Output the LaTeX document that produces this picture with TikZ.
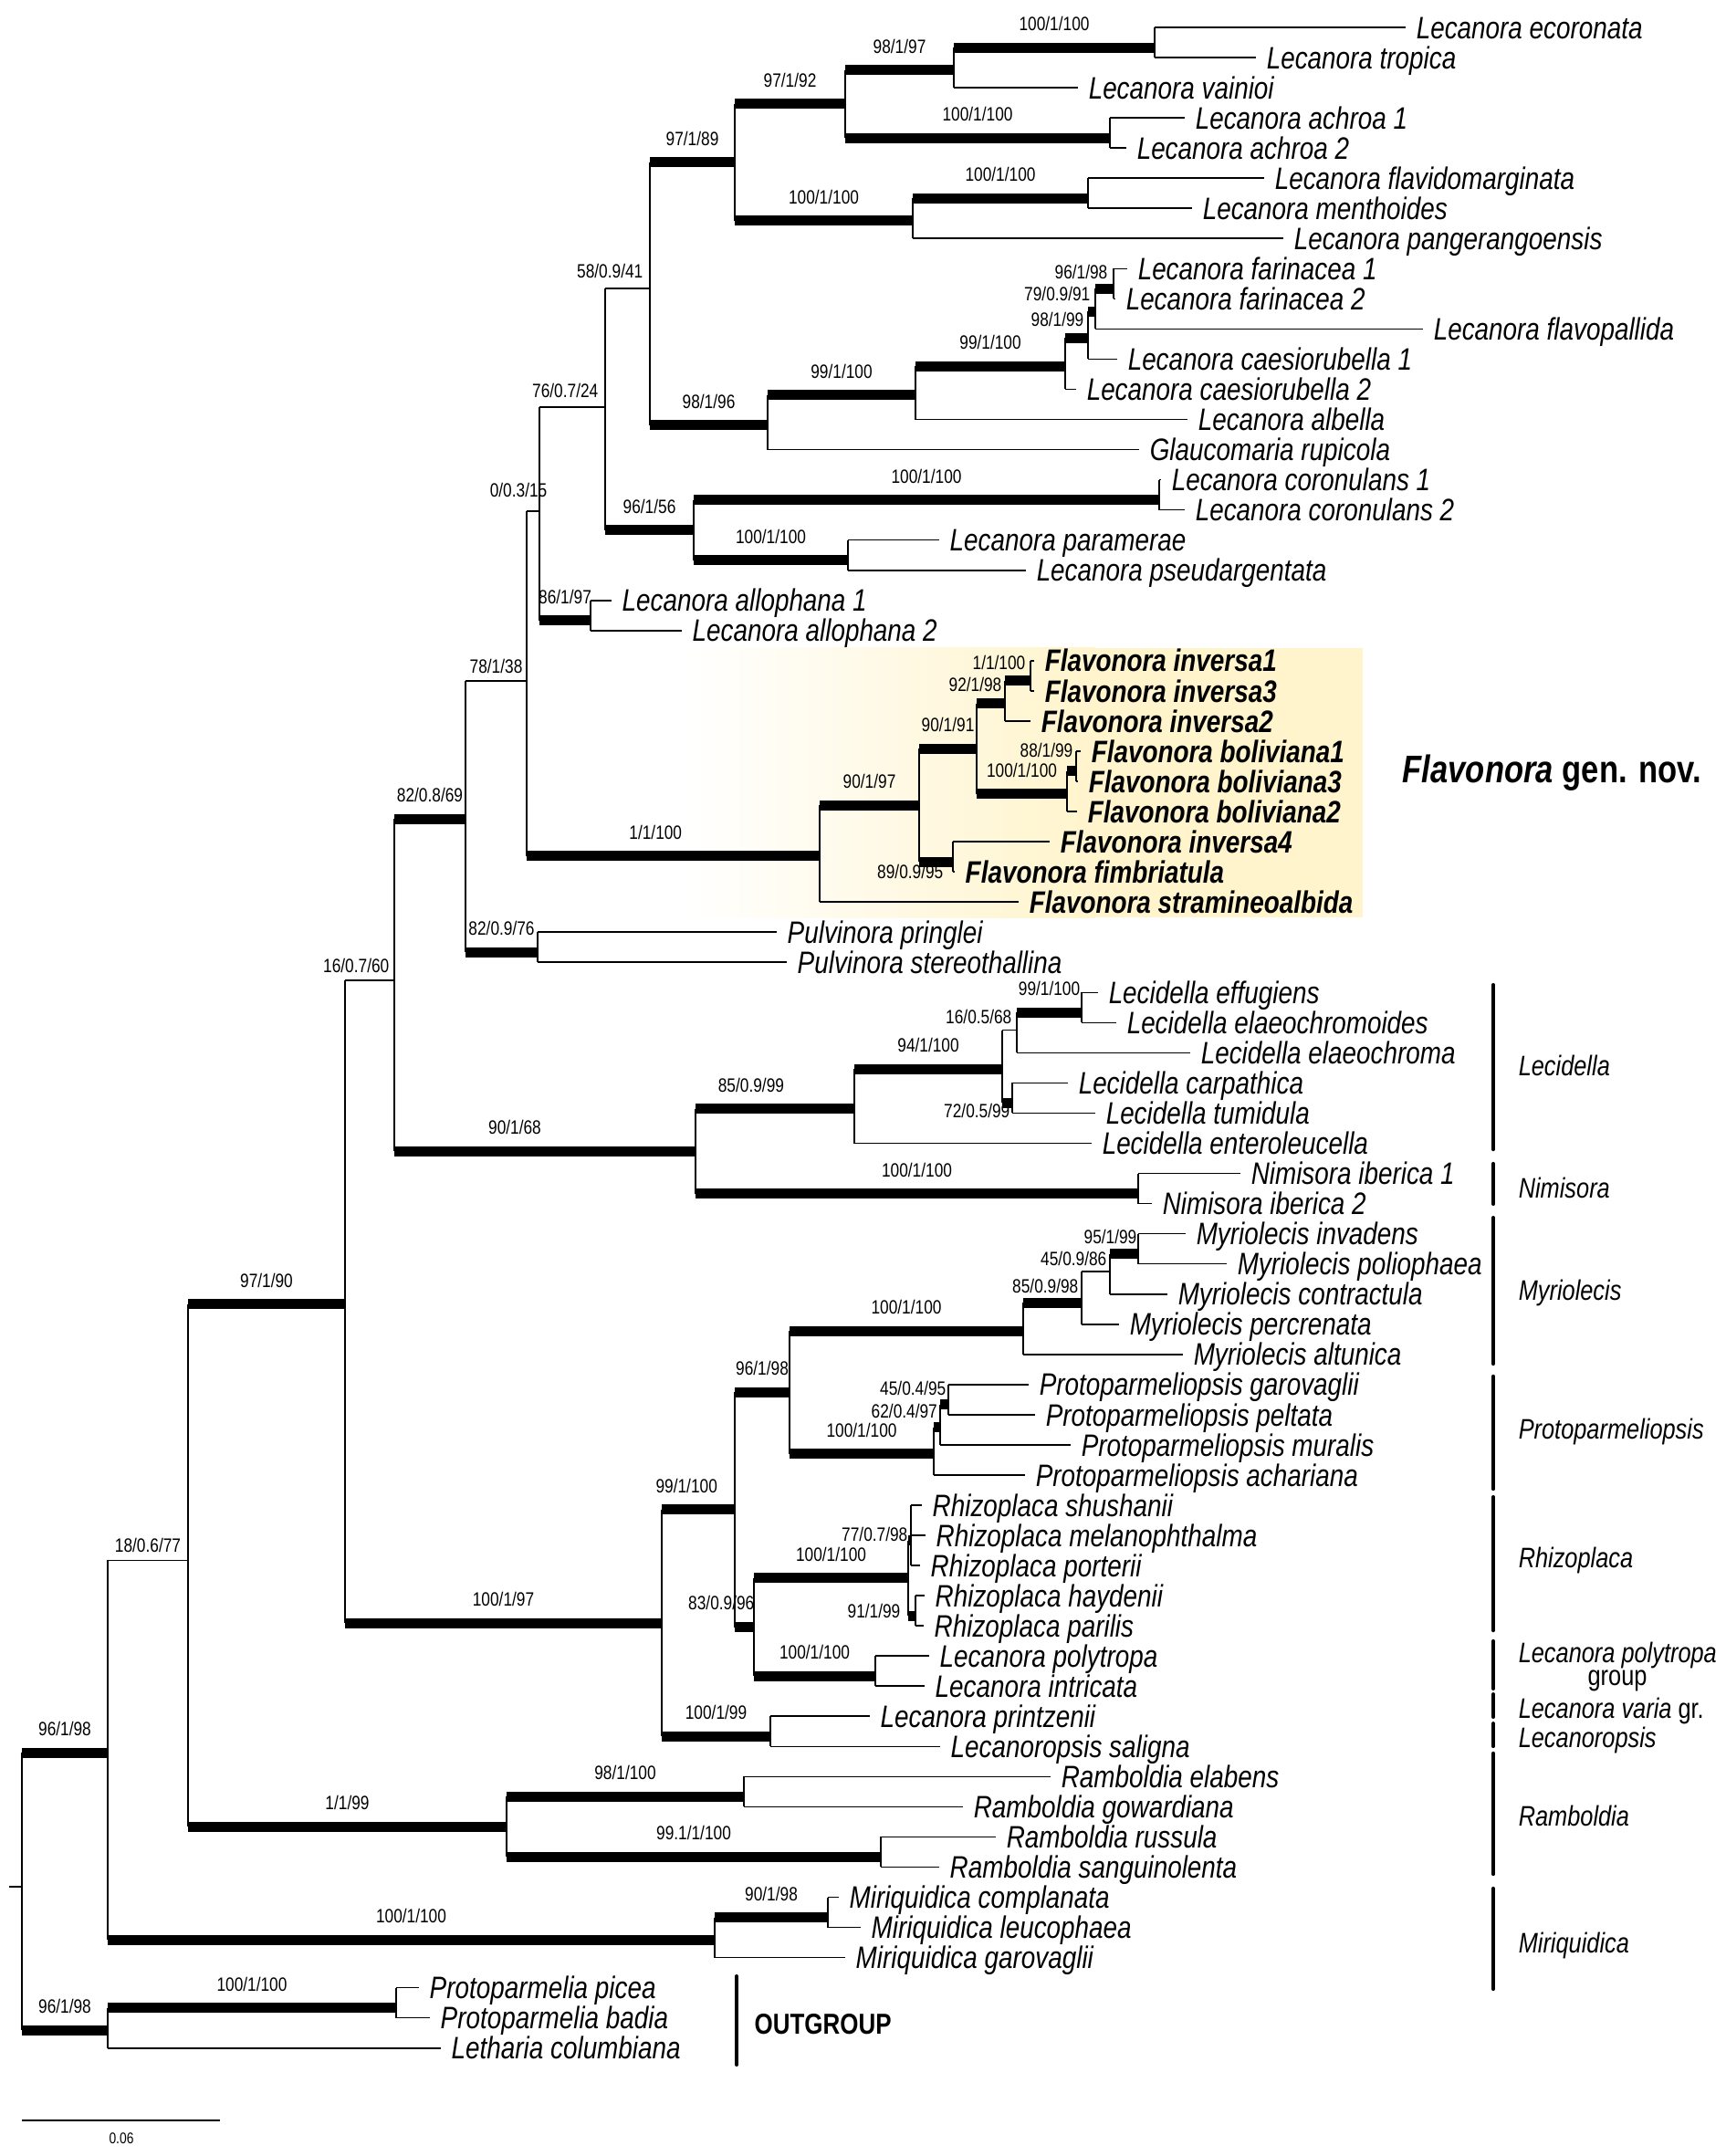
\documentclass[tikz,border=0pt]{standalone}
\usepackage{fontspec}
\setmainfont{Liberation Sans}[FakeStretch=0.82]
\usepackage{tikz}
\usepackage{xcolor}
\definecolor{flavbg}{RGB}{255,244,204}

\begin{document}
\begin{tikzpicture}[x=0.1mm, y=-3.304mm]
    \tikzstyle{br}=[draw, line width=.45pt, black]
    \tikzstyle{sup}=[draw, line width=1.1mm, black]
    \tikzstyle{tx}=[anchor=west, inner xsep=1.1mm, inner ysep=0pt, text height=6.9pt, text depth=0pt, font=\fontsize{9.67pt}{11pt}\selectfont\itshape]
    \tikzstyle{fx}=[tx, font=\fontsize{9.67pt}{11pt}\selectfont\bfseries\itshape]
    \tikzstyle{bs}=[anchor=base, inner sep=0pt, text depth=0pt, yshift=1.85mm, font=\fontsize{6pt}{7pt}\selectfont]
    \tikzstyle{bst}=[bs, yshift=-0.95mm]
    \tikzstyle{bsr}=[anchor=base east, inner sep=0pt, text depth=0pt, font=\fontsize{6pt}{7pt}\selectfont]
    \tikzstyle{grp}=[anchor=west, inner sep=0pt, text height=6.3pt, text depth=0pt, font=\fontsize{8.8pt}{10pt}\selectfont\itshape]
    \tikzstyle{gbar}=[draw, line width=1.2pt, line cap=round]
    \useasboundingbox (0,-0.908) rectangle (1890,70.58);

    % Flavonora box
    \shade[left color=white, right color=flavbg] (748,20.58) rectangle (1200,29.51);
    \fill[flavbg] (1199,20.58) rectangle (1493,29.51);

    % tips
    \node[tx] (t0) at (1540,0) {Lecanora ecoronata};
    \node[tx] (t1) at (1376,1) {Lecanora tropica};
    \node[tx] (t2) at (1181,2) {Lecanora vainioi};
    \node[tx] (t3) at (1298,3) {Lecanora achroa 1};
    \node[tx] (t4) at (1234,4) {Lecanora achroa 2};
    \node[tx] (t5) at (1385,5) {Lecanora flavidomarginata};
    \node[tx] (t6) at (1306,6) {Lecanora menthoides};
    \node[tx] (t7) at (1406,7) {Lecanora pangerangoensis};
    \node[tx] (t8) at (1235,8) {Lecanora farinacea 1};
    \node[tx] (t9) at (1222,9) {Lecanora farinacea 2};
    \node[tx] (t10) at (1559,10) {Lecanora flavopallida};
    \node[tx] (t11) at (1224,11) {Lecanora caesiorubella 1};
    \node[tx] (t12) at (1179,12) {Lecanora caesiorubella 2};
    \node[tx] (t13) at (1301,13) {Lecanora albella};
    \node[tx] (t14) at (1248,14) {Glaucomaria rupicola};
    \node[tx] (t15) at (1272,15) {Lecanora coronulans 1};
    \node[tx] (t16) at (1298,16) {Lecanora coronulans 2};
    \node[tx] (t17) at (1029,17) {Lecanora paramerae};
    \node[tx] (t18) at (1124,18) {Lecanora pseudargentata};
    \node[tx] (t19) at (670,19) {Lecanora allophana 1};
    \node[tx] (t20) at (747,20) {Lecanora allophana 2};
    \node[fx] (t21) at (1133,21) {Flavonora inversa1};
    \node[fx] (t22) at (1133,22) {Flavonora inversa3};
    \node[fx] (t23) at (1129,23) {Flavonora inversa2};
    \node[fx] (t24) at (1184,24) {Flavonora boliviana1};
    \node[fx] (t25) at (1181,25) {Flavonora boliviana3};
    \node[fx] (t26) at (1180,26) {Flavonora boliviana2};
    \node[fx] (t27) at (1150,27) {Flavonora inversa4};
    \node[fx] (t28) at (1046,28) {Flavonora fimbriatula};
    \node[fx] (t29) at (1116,29) {Flavonora stramineoalbida};
    \node[tx] (t30) at (851,30) {Pulvinora pringlei};
    \node[tx] (t31) at (862,31) {Pulvinora stereothallina};
    \node[tx] (t32) at (1203,32) {Lecidella effugiens};
    \node[tx] (t33) at (1223,33) {Lecidella elaeochromoides};
    \node[tx] (t34) at (1304,34) {Lecidella elaeochroma};
    \node[tx] (t35) at (1170,35) {Lecidella carpathica};
    \node[tx] (t36) at (1200,36) {Lecidella tumidula};
    \node[tx] (t37) at (1196,37) {Lecidella enteroleucella};
    \node[tx] (t38) at (1359,38) {Nimisora iberica 1};
    \node[tx] (t39) at (1262,39) {Nimisora iberica 2};
    \node[tx] (t40) at (1299,40) {Myriolecis invadens};
    \node[tx] (t41) at (1344,41) {Myriolecis poliophaea};
    \node[tx] (t42) at (1279,42) {Myriolecis contractula};
    \node[tx] (t43) at (1226,43) {Myriolecis percrenata};
    \node[tx] (t44) at (1296,44) {Myriolecis altunica};
    \node[tx] (t45) at (1127,45) {Protoparmeliopsis garovaglii};
    \node[tx] (t46) at (1134,46) {Protoparmeliopsis peltata};
    \node[tx] (t47) at (1173,47) {Protoparmeliopsis muralis};
    \node[tx] (t48) at (1123,48) {Protoparmeliopsis achariana};
    \node[tx] (t49) at (1010,49) {Rhizoplaca shushanii};
    \node[tx] (t50) at (1014,50) {Rhizoplaca melanophthalma};
    \node[tx] (t51) at (1008,51) {Rhizoplaca porterii};
    \node[tx] (t52) at (1013,52) {Rhizoplaca haydenii};
    \node[tx] (t53) at (1012,53) {Rhizoplaca parilis};
    \node[tx] (t54) at (1018,54) {Lecanora polytropa};
    \node[tx] (t55) at (1013,55) {Lecanora intricata};
    \node[tx] (t56) at (953,56) {Lecanora printzenii};
    \node[tx] (t57) at (1030,57) {Lecanoropsis saligna};
    \node[tx] (t58) at (1151,58) {Ramboldia elabens};
    \node[tx] (t59) at (1055,59) {Ramboldia gowardiana};
    \node[tx] (t60) at (1091,60) {Ramboldia russula};
    \node[tx] (t61) at (1029,61) {Ramboldia sanguinolenta};
    \node[tx] (t62) at (919,62) {Miriquidica complanata};
    \node[tx] (t63) at (943,63) {Miriquidica leucophaea};
    \node[tx] (t64) at (926,64) {Miriquidica garovaglii};
    \node[tx] (t65) at (459,65) {Protoparmelia picea};
    \node[tx] (t66) at (471,66) {Protoparmelia badia};
    \node[tx] (t67) at (483,67) {Letharia columbiana};

    % internal nodes (shifted ones sit on a thick bar)
    \coordinate (stub) at (10,61.645);
    \coordinate (rt) at (24,61.645);
    \coordinate[yshift=-.55mm] (ing) at (118,57.04);
    \coordinate[yshift=-.55mm] (outg) at (118,66.25);
    \coordinate[yshift=-.55mm] (prot) at (434,65.5);
    \coordinate (n18) at (206,50.83);
    \coordinate[yshift=-.55mm] (miri) at (783,63.25);
    \coordinate[yshift=-.55mm] (comp) at (907,62.5);
    \coordinate[yshift=-.55mm] (n97) at (378,42.17);
    \coordinate[yshift=-.55mm] (ramb) at (555,59.5);
    \coordinate[yshift=-.55mm] (elab) at (815,58.5);
    \coordinate[yshift=-.55mm] (russ) at (965,60.5);
    \coordinate (n16) at (432,31.591);
    \coordinate[yshift=-.55mm] (n100) at (725,52.74);
    \coordinate[yshift=-.55mm] (n99) at (805,48.98);
    \coordinate[yshift=-.55mm] (prin) at (844,56.5);
    \coordinate[yshift=-.55mm] (n96) at (865,45.09);
    \coordinate[yshift=-.55mm] (n83) at (826,52.875);
    \coordinate[yshift=-.55mm] (myri) at (1121,43.06);
    \coordinate[yshift=-.55mm] (n85m) at (1185,42.125);
    \coordinate (n45m) at (1216,41.25);
    \coordinate[yshift=-.55mm] (inva) at (1247,40.5);
    \coordinate[yshift=-.55mm] (prto) at (1023,47.125);
    \coordinate[yshift=-.55mm] (n62) at (1030,46.25);
    \coordinate[yshift=-.55mm] (n45p) at (1039,45.5);
    \coordinate[yshift=-.55mm] (rhiz) at (995,51.25);
    \coordinate[yshift=-.55mm] (rh1) at (998,50);
    \coordinate[yshift=-.55mm] (rh2) at (1003,52.5);
    \coordinate[yshift=-.55mm] (poly) at (959,54.5);
    \coordinate[yshift=-.55mm] (n82) at (510,26.088);
    \coordinate[yshift=-.55mm] (n90) at (762,37.094);
    \coordinate[yshift=-.55mm] (n85l) at (936,35.6875);
    \coordinate[yshift=-.55mm] (nimi) at (1247,38.5);
    \coordinate[yshift=-.55mm] (n94) at (1098,34.375);
    \coordinate (n16l) at (1114,33.25);
    \coordinate[yshift=-.55mm] (effu) at (1185,32.5);
    \coordinate[yshift=-.55mm] (n72) at (1109,35.5);
    \coordinate (n78) at (577,21.677);
    \coordinate[yshift=-.55mm] (pulv) at (589,30.5);
    \coordinate (n0) at (591,16.041);
    \coordinate[yshift=-.55mm] (fl1) at (898,27.3125);
    \coordinate[yshift=-.55mm] (fl2) at (1007,25.625);
    \coordinate[yshift=-.55mm] (fl3) at (1070,23.75);
    \coordinate[yshift=-.55mm] (fl4) at (1044,27.5);
    \coordinate[yshift=-.55mm] (fl5) at (1101,22.25);
    \coordinate[yshift=-.55mm] (fl6) at (1169,25.25);
    \coordinate[yshift=-.55mm] (fl7) at (1129,21.5);
    \coordinate[yshift=-.55mm] (fl8) at (1179,24.5);
    \coordinate (n76) at (663,12.582);
    \coordinate[yshift=-.55mm] (allo) at (647,19.5);
    \coordinate (n58) at (712,8.664);
    \coordinate[yshift=-.55mm] (n96c) at (760,16.5);
    \coordinate[yshift=-.55mm] (coro) at (1270,15.5);
    \coordinate[yshift=-.55mm] (para) at (929,17.5);
    \coordinate[yshift=-.55mm] (n97b) at (805,4.3125);
    \coordinate[yshift=-.55mm] (n97c) at (926,2.375);
    \coordinate[yshift=-.55mm] (vain) at (1045,1.25);
    \coordinate[yshift=-.55mm] (ecor) at (1265,0.5);
    \coordinate[yshift=-.55mm] (achr) at (1216,3.5);
    \coordinate[yshift=-.55mm] (flv2) at (1000,6.25);
    \coordinate[yshift=-.55mm] (flv1) at (1192,5.5);
    \coordinate[yshift=-.55mm] (n98) at (841,13.016);
    \coordinate[yshift=-.55mm] (albe) at (1003,12.03);
    \coordinate[yshift=-.55mm] (caes) at (1167,11.0625);
    \coordinate[yshift=-.55mm] (far3) at (1192,10.125);
    \coordinate[yshift=-.55mm] (far2) at (1200,9.25);
    \coordinate[yshift=-.55mm] (far1) at (1220,8.5);

    % root and outgroup
    \draw[br] (stub) -- (rt);
    \draw[br] (rt |- ing) -- (rt |- outg);
    \draw[sup] (rt |- ing) -- node[bs] (lb1) {96/1/98} (ing);
    \draw[sup] (rt |- outg) -- node[bs] (lb2) {96/1/98} (outg);
    \draw[br] (outg |- prot) -- (outg |- t67);
    \draw[sup] (outg |- prot) -- node[bs] (lb3) {100/1/100} (prot);
    \draw[br] (outg |- t67) -- (t67.west);
    \draw[br] (prot |- t65) -- (prot |- t66);
    \draw[br] (prot |- t65) -- (t65.west);
    \draw[br] (prot |- t66) -- (t66.west);

    % ingroup, Miriquidica, Ramboldia
    \draw[br] (ing |- n18) -- (ing |- miri);
    \draw[br] (ing |- n18) -- node[bst] (lb4) {18/0.6/77} (n18);
    \draw[sup] (ing |- miri) -- node[bs] (lb5) {100/1/100} (miri);
    \draw[br] (miri |- comp) -- (miri |- t64);
    \draw[sup] (miri |- comp) -- node[bs] (lb6) {90/1/98} (comp);
    \draw[br] (miri |- t64) -- (t64.west);
    \draw[br] (comp |- t62) -- (comp |- t63);
    \draw[br] (comp |- t62) -- (t62.west);
    \draw[br] (comp |- t63) -- (t63.west);
    \draw[br] (n18 |- n97) -- (n18 |- ramb);
    \draw[sup] (n18 |- n97) -- node[bs] (lb7) {97/1/90} (n97);
    \draw[sup] (n18 |- ramb) -- node[bs] (lb8) {1/1/99} (ramb);
    \draw[br] (ramb |- elab) -- (ramb |- russ);
    \draw[sup] (ramb |- elab) -- node[bs] (lb9) {98/1/100} (elab);
    \draw[sup] (ramb |- russ) -- node[bs] (lb10) {99.1/1/100} (russ);
    \draw[br] (elab |- t58) -- (elab |- t59);
    \draw[br] (elab |- t58) -- (t58.west);
    \draw[br] (elab |- t59) -- (t59.west);
    \draw[br] (russ |- t60) -- (russ |- t61);
    \draw[br] (russ |- t60) -- (t60.west);
    \draw[br] (russ |- t61) -- (t61.west);

    % Myriolecis to Lecanoropsis
    \draw[br] (n97 |- n16) -- (n97 |- n100);
    \draw[br] (n97 |- n16) -- (n16);
    \node[bsr] (lb11) at ([xshift=-0.5mm,yshift=0.8mm]n16) {16/0.7/60};
    \draw[sup] (n97 |- n100) -- node[bs] (lb12) {100/1/97} (n100);
    \draw[br] (n100 |- n99) -- (n100 |- prin);
    \draw[sup] (n100 |- n99) -- node[bs, pos=.34] (lb13) {99/1/100} (n99);
    \draw[sup] (n100 |- prin) -- node[bs] (lb14) {100/1/99} (prin);
    \draw[br] (prin |- t56) -- (prin |- t57);
    \draw[br] (prin |- t56) -- (t56.west);
    \draw[br] (prin |- t57) -- (t57.west);
    \draw[br] (n99 |- n96) -- (n99 |- n83);
    \draw[sup] (n99 |- n96) -- node[bs] (lb15) {96/1/98} (n96);
    \draw[sup] (n99 |- n83) -- (n83);
    \node[bsr] (lb16) at ([xshift=0.1mm,yshift=1.95mm]n83) {83/0.9/96};
    \draw[br] (n83 |- rhiz) -- (n83 |- poly);
    \draw[sup] (n83 |- rhiz) -- node[bs] (lb17) {100/1/100} (rhiz);
    \draw[sup] (n83 |- poly) -- node[bs] (lb18) {100/1/100} (poly);
    \draw[br] (poly |- t54) -- (poly |- t55);
    \draw[br] (poly |- t54) -- (t54.west);
    \draw[br] (poly |- t55) -- (t55.west);
    \draw[br] (rhiz |- rh1) -- (rhiz |- rh2);
    \draw[sup] (rhiz |- rh1) -- (rh1);
    \draw[sup] (rhiz |- rh2) -- (rh2);
    \node[bsr] (lb19) at ([xshift=-0.3mm,yshift=-0.05mm]rh1) {77/0.7/98};
    \node[bsr] (lb20) at ([xshift=-1.6mm,yshift=-0.25mm]rh2) {91/1/99};
    \draw[br] (rh1 |- t49) -- (rh1 |- t51);
    \draw[br] (rh1 |- t49) -- (t49.west);
    \draw[br] (rh1 |- t50) -- (t50.west);
    \draw[br] (rh1 |- t51) -- (t51.west);
    \draw[br] (rh2 |- t52) -- (rh2 |- t53);
    \draw[br] (rh2 |- t52) -- (t52.west);
    \draw[br] (rh2 |- t53) -- (t53.west);
    \draw[br] (n96 |- myri) -- (n96 |- prto);
    \draw[sup] (n96 |- myri) -- node[bs] (lb21) {100/1/100} (myri);
    \draw[sup] (n96 |- prto) -- node[bs] (lb22) {100/1/100} (prto);
    \draw[br] (prto |- n62) -- (prto |- t48);
    \draw[sup] (prto |- n62) -- (n62);
    \node[bsr] (lb23) at ([xshift=-0.25mm,yshift=1.05mm]n62) {62/0.4/97};
    \draw[br] (prto |- t48) -- (t48.west);
    \draw[br] (n62 |- n45p) -- (n62 |- t47);
    \draw[sup] (n62 |- n45p) -- (n45p);
    \node[bsr] (lb24) at ([xshift=-0.2mm,yshift=1.05mm]n45p) {45/0.4/95};
    \draw[br] (n62 |- t47) -- (t47.west);
    \draw[br] (n45p |- t45) -- (n45p |- t46);
    \draw[br] (n45p |- t45) -- (t45.west);
    \draw[br] (n45p |- t46) -- (t46.west);
    \draw[br] (myri |- n85m) -- (myri |- t44);
    \draw[sup] (myri |- n85m) -- (n85m);
    \node[bsr] (lb25) at ([xshift=-0.3mm,yshift=1.05mm]n85m) {85/0.9/98};
    \draw[br] (myri |- t44) -- (t44.west);
    \draw[br] (n85m |- n45m) -- (n85m |- t43);
    \draw[br] (n85m |- n45m) -- (n45m);
    \node[bsr] (lb26) at ([xshift=-0.3mm,yshift=0.6mm]n45m) {45/0.9/86};
    \draw[br] (n85m |- t43) -- (t43.west);
    \draw[br] (n45m |- inva) -- (n45m |- t42);
    \draw[sup] (n45m |- inva) -- (inva);
    \node[bsr] (lb27) at ([xshift=-0.1mm,yshift=1.15mm]inva) {95/1/99};
    \draw[br] (n45m |- t42) -- (t42.west);
    \draw[br] (inva |- t40) -- (inva |- t41);
    \draw[br] (inva |- t40) -- (t40.west);
    \draw[br] (inva |- t41) -- (t41.west);

    % Lecidella and Nimisora
    \draw[br] (n16 |- n82) -- (n16 |- n90);
    \draw[sup] (n16 |- n82) -- node[bs] (lb28) {82/0.8/69} (n82);
    \draw[sup] (n16 |- n90) -- node[bs, pos=.4] (lb29) {90/1/68} (n90);
    \draw[br] (n90 |- n85l) -- (n90 |- nimi);
    \draw[sup] (n90 |- n85l) -- node[bs, pos=.35] (lb30) {85/0.9/99} (n85l);
    \draw[sup] (n90 |- nimi) -- node[bs] (lb31) {100/1/100} (nimi);
    \draw[br] (nimi |- t38) -- (nimi |- t39);
    \draw[br] (nimi |- t38) -- (t38.west);
    \draw[br] (nimi |- t39) -- (t39.west);
    \draw[br] (n85l |- n94) -- (n85l |- t37);
    \draw[sup] (n85l |- n94) -- node[bs] (lb32) {94/1/100} (n94);
    \draw[br] (n85l |- t37) -- (t37.west);
    \draw[br] (n94 |- n16l) -- (n94 |- n72);
    \draw[br] (n94 |- n16l) -- (n16l);
    \node[bsr] (lb33) at ([xshift=-0.5mm,yshift=0.7mm]n16l) {16/0.5/68};
    \draw[sup] (n94 |- n72) -- (n72);
    \node[bsr] (lb34) at ([xshift=-0.2mm,yshift=-1.65mm]n72) {72/0.5/99};
    \draw[br] (n72 |- t35) -- (n72 |- t36);
    \draw[br] (n72 |- t35) -- (t35.west);
    \draw[br] (n72 |- t36) -- (t36.west);
    \draw[br] (n16l |- effu) -- (n16l |- t34);
    \draw[sup] (n16l |- effu) -- node[bs] (lb35) {99/1/100} (effu);
    \draw[br] (n16l |- t34) -- (t34.west);
    \draw[br] (effu |- t32) -- (effu |- t33);
    \draw[br] (effu |- t32) -- (t32.west);
    \draw[br] (effu |- t33) -- (t33.west);

    % Pulvinora and Flavonora
    \draw[br] (n82 |- n78) -- (n82 |- pulv);
    \draw[br] (n82 |- n78) -- node[bst] (lb36) {78/1/38} (n78);
    \draw[sup] (n82 |- pulv) -- node[bs] (lb37) {82/0.9/76} (pulv);
    \draw[br] (pulv |- t30) -- (pulv |- t31);
    \draw[br] (pulv |- t30) -- (t30.west);
    \draw[br] (pulv |- t31) -- (t31.west);
    \draw[br] (n78 |- n0) -- (n78 |- fl1);
    \draw[br] (n78 |- n0) -- (n0);
    \node[bsr] (lb38) at ([xshift=0.9mm,yshift=1.6mm]n0) {0/0.3/15};
    \draw[sup] (n78 |- fl1) -- node[bs, pos=.44] (lb39) {1/1/100} (fl1);
    \draw[br] (fl1 |- fl2) -- (fl1 |- t29);
    \draw[sup] (fl1 |- fl2) -- node[bs] (lb40) {90/1/97} (fl2);
    \draw[br] (fl1 |- t29) -- (t29.west);
    \draw[br] (fl2 |- fl3) -- (fl2 |- fl4);
    \draw[sup] (fl2 |- fl3) -- node[bs] (lb41) {90/1/91} (fl3);
    \draw[sup] (fl2 |- fl4) -- (fl4);
    \node[bsr] (lb42) at ([xshift=-1.0mm,yshift=-1.85mm]fl4) {89/0.9/95};
    \draw[br] (fl4 |- t27) -- (fl4 |- t28);
    \draw[br] (fl4 |- t27) -- (t27.west);
    \draw[br] (fl4 |- t28) -- (t28.west);
    \draw[br] (fl3 |- fl5) -- (fl3 |- fl6);
    \draw[sup] (fl3 |- fl5) -- (fl5);
    \node[bsr] (lb43) at ([xshift=-0.3mm,yshift=1.35mm]fl5) {92/1/98};
    \draw[sup] (fl3 |- fl6) -- node[bs] (lb44) {100/1/100} (fl6);
    \draw[br] (fl6 |- fl8) -- (fl6 |- t26);
    \draw[sup] (fl6 |- fl8) -- (fl8);
    \node[bsr] (lb45) at ([xshift=-0.3mm,yshift=1.55mm]fl8) {88/1/99};
    \draw[br] (fl6 |- t26) -- (t26.west);
    \draw[br] (fl8 |- t24) -- (fl8 |- t25);
    \draw[br] (fl8 |- t24) -- (t24.west);
    \draw[br] (fl8 |- t25) -- (t25.west);
    \draw[br] (fl5 |- fl7) -- (fl5 |- t23);
    \draw[sup] (fl5 |- fl7) -- (fl7);
    \node[bsr] (lb46) at ([xshift=-0.5mm,yshift=1.25mm]fl7) {1/1/100};
    \draw[br] (fl5 |- t23) -- (t23.west);
    \draw[br] (fl7 |- t21) -- (fl7 |- t22);
    \draw[br] (fl7 |- t21) -- (t21.west);
    \draw[br] (fl7 |- t22) -- (t22.west);

    % Lecanora s.str.
    \draw[br] (n0 |- n76) -- (n0 |- allo);
    \draw[br] (n0 |- n76) -- (n76);
    \node[bsr] (lb47) at ([xshift=-0.7mm,yshift=1.0mm]n76) {76/0.7/24};
    \draw[sup] (n0 |- allo) -- node[bs] (lb48) {86/1/97} (allo);
    \draw[br] (allo |- t19) -- (allo |- t20);
    \draw[br] (allo |- t19) -- (t19.west);
    \draw[br] (allo |- t20) -- (t20.west);
    \draw[br] (n76 |- n58) -- (n76 |- n96c);
    \draw[br] (n76 |- n58) -- (n58);
    \node[bsr] (lb49) at ([xshift=-0.7mm,yshift=1.2mm]n58) {58/0.9/41};
    \draw[sup] (n76 |- n96c) -- node[bs] (lb50) {96/1/56} (n96c);
    \draw[br] (n96c |- coro) -- (n96c |- para);
    \draw[sup] (n96c |- coro) -- node[bs] (lb51) {100/1/100} (coro);
    \draw[sup] (n96c |- para) -- node[bs] (lb52) {100/1/100} (para);
    \draw[br] (coro |- t15) -- (coro |- t16);
    \draw[br] (coro |- t15) -- (t15.west);
    \draw[br] (coro |- t16) -- (t16.west);
    \draw[br] (para |- t17) -- (para |- t18);
    \draw[br] (para |- t17) -- (t17.west);
    \draw[br] (para |- t18) -- (t18.west);
    \draw[br] (n58 |- n97b) -- (n58 |- n98);
    \draw[sup] (n58 |- n97b) -- node[bs] (lb53) {97/1/89} (n97b);
    \draw[sup] (n58 |- n98) -- node[bs] (lb54) {98/1/96} (n98);
    \draw[br] (n98 |- albe) -- (n98 |- t14);
    \draw[sup] (n98 |- albe) -- node[bs] (lb55) {99/1/100} (albe);
    \draw[br] (n98 |- t14) -- (t14.west);
    \draw[br] (albe |- caes) -- (albe |- t13);
    \draw[sup] (albe |- caes) -- node[bs] (lb56) {99/1/100} (caes);
    \draw[br] (albe |- t13) -- (t13.west);
    \draw[br] (caes |- far3) -- (caes |- t12);
    \draw[sup] (caes |- far3) -- (far3);
    \node[bsr] (lb57) at ([xshift=-0.4mm,yshift=1.3mm]far3) {98/1/99};
    \draw[br] (caes |- t12) -- (t12.west);
    \draw[br] (far3 |- far2) -- (far3 |- t11);
    \draw[sup] (far3 |- far2) -- (far2);
    \node[bsr] (lb58) at ([xshift=-0.5mm,yshift=1.15mm]far2) {79/0.9/91};
    \draw[br] (far3 |- t11) -- (t11.west);
    \draw[br] (far2 |- far1) -- (far2 |- t10);
    \draw[sup] (far2 |- far1) -- (far1);
    \node[bsr] (lb59) at ([xshift=-0.6mm,yshift=1.05mm]far1) {96/1/98};
    \draw[br] (far2 |- t10) -- (t10.west);
    \draw[br] (far1 |- t8) -- (far1 |- t9);
    \draw[br] (far1 |- t8) -- (t8.west);
    \draw[br] (far1 |- t9) -- (t9.west);
    \draw[br] (n97b |- n97c) -- (n97b |- flv2);
    \draw[sup] (n97b |- n97c) -- node[bs] (lb60) {97/1/92} (n97c);
    \draw[sup] (n97b |- flv2) -- node[bs] (lb61) {100/1/100} (flv2);
    \draw[br] (flv2 |- flv1) -- (flv2 |- t7);
    \draw[sup] (flv2 |- flv1) -- node[bs] (lb62) {100/1/100} (flv1);
    \draw[br] (flv2 |- t7) -- (t7.west);
    \draw[br] (flv1 |- t5) -- (flv1 |- t6);
    \draw[br] (flv1 |- t5) -- (t5.west);
    \draw[br] (flv1 |- t6) -- (t6.west);
    \draw[br] (n97c |- vain) -- (n97c |- achr);
    \draw[sup] (n97c |- vain) -- node[bs] (lb63) {98/1/97} (vain);
    \draw[sup] (n97c |- achr) -- node[bs] (lb64) {100/1/100} (achr);
    \draw[br] (achr |- t3) -- (achr |- t4);
    \draw[br] (achr |- t3) -- (t3.west);
    \draw[br] (achr |- t4) -- (t4.west);
    \draw[br] (vain |- ecor) -- (vain |- t2);
    \draw[sup] (vain |- ecor) -- node[bs] (lb65) {100/1/100} (ecor);
    \draw[br] (vain |- t2) -- (t2.west);
    \draw[br] (ecor |- t0) -- (ecor |- t1);
    \draw[br] (ecor |- t0) -- (t0.west);
    \draw[br] (ecor |- t1) -- (t1.west);

    % groups
    \node[anchor=base west, inner sep=0pt, font=\fontsize{12pt}{14pt}\selectfont\bfseries] (fgn) at (1536,25.05) {\textit{Flavonora} gen. nov.};
    \draw[gbar] (1636,31.75) -- (1636,37.2);
    \node[grp] (g1) at (1663,34.44) {Lecidella};
    \draw[gbar] (1636,37.68) -- (1636,39.01);
    \node[grp] (g2) at (1663,38.47) {Nimisora};
    \draw[gbar] (1636,39.47) -- (1636,44.31);
    \node[grp] (g3) at (1663,41.86) {Myriolecis};
    \draw[gbar] (1636,44.73) -- (1636,48.46);
    \node[grp] (g4) at (1663,46.46) {Protoparmeliopsis};
    \draw[gbar] (1636,48.73) -- (1636,53.15);
    \node[grp] (g5) at (1663,50.73) {Rhizoplaca};
    \draw[gbar] (1636,53.51) -- (1636,55.08);
    \node[grp] (g6) at (1663,53.9) {Lecanora polytropa};
    \node[grp, anchor=center, font=\fontsize{8.8pt}{10pt}\selectfont] (g6b) at (1772,54.63) {group};
    \draw[gbar] (1636,55.27) -- (1636,56.02);
    \node[grp] (g7) at (1663,55.72) {Lecanora varia \textup{gr.}};
    \draw[gbar] (1636,56.24) -- (1636,56.99);
    \node[grp] (g8) at (1663,56.69) {Lecanoropsis};
    \draw[gbar] (1636,57.23) -- (1636,61.23);
    \node[grp] (g9) at (1663,59.29) {Ramboldia};
    \draw[gbar] (1636,61.71) -- (1636,65.04);
    \node[grp] (g10) at (1663,63.5) {Miriquidica};
    \draw[gbar] (807,64.62) -- (807,67.55);
    \node[grp, font=\fontsize{9pt}{10pt}\selectfont\bfseries] (g11) at (826,66.19) {OUTGROUP};

    % scale
    \coordinate (sb1) at (24,69.4);
    \coordinate (sb2) at (241,69.4);
    \draw[br] (sb1) -- (sb2);
    \node[inner sep=0pt, font=\fontsize{4.8pt}{5pt}\selectfont] (sbl) at (133,70.0) {0.06};
\end{tikzpicture}
\end{document}
